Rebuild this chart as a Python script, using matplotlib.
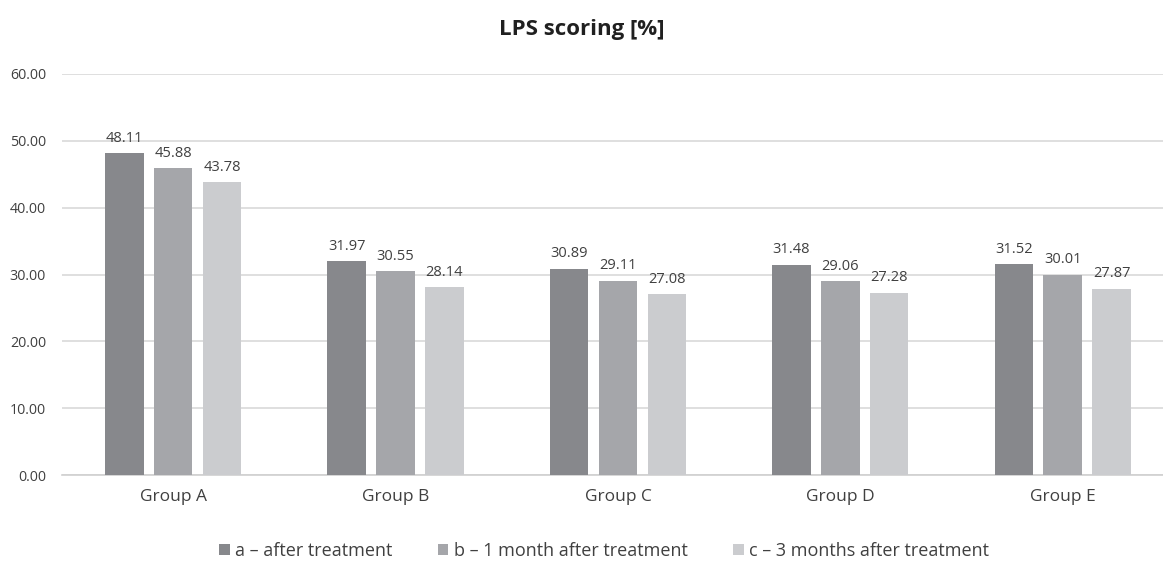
import numpy as np
import matplotlib
matplotlib.use("Agg")
import matplotlib.pyplot as plt

plt.rcParams['font.family'] = ['Open Sans', 'DejaVu Sans']

groups = ['Group A', 'Group B', 'Group C', 'Group D', 'Group E']
series_names = ['a – after treatment', 'b – 1 month after treatment', 'c – 3 months after treatment']
after_treatment = [48.11, 31.97, 30.89, 31.48, 31.52]
one_month = [45.88, 30.55, 29.11, 29.06, 30.01]
three_months = [43.78, 28.14, 27.08, 27.28, 27.87]
colors = ['#87888c', '#a5a6aa', '#cbcccf']

fig = plt.figure(figsize=(11.63, 5.63), dpi=100)
ax = fig.add_axes([62 / 1163, 0.156, 1 - 62 / 1163, 0.7126])

x = np.arange(len(groups))
width = 0.173
step = 0.220
handles = []
for i, (vals, name, col) in enumerate(zip([after_treatment, one_month, three_months], series_names, colors)):
    pos = x + (i - 1) * step
    bars = ax.bar(pos, vals, width, color=col, label=name, zorder=3)
    handles.append(bars)
    for b, v in zip(bars, vals):
        ax.text(b.get_x() + b.get_width() / 2, v + 1.1, f'{v:.2f}', ha='center', va='bottom',
                fontsize=10.5, color='#404040')

# plot area runs off the right edge of the canvas, so the right limit is cut short
ax.set_xlim(-0.5, 4.451)
ax.set_ylim(0, 60)
ax.set_yticks(np.arange(0, 61, 10))
ax.set_yticklabels([f'{t:.2f}' for t in np.arange(0, 61, 10)])
ax.yaxis.grid(True, color='#d9d9d9', linewidth=1.2, zorder=0)
ax.set_xticks(x)
ax.set_xticklabels(groups, fontsize=12.5)
ax.tick_params(axis='x', length=0, pad=10, colors='#404040')
ax.tick_params(axis='y', length=0, pad=11.5, labelsize=10.3, colors='#404040')
for s in ['top', 'right', 'left']:
    ax.spines[s].set_visible(False)
ax.spines['bottom'].set_color('#d0d0d0')
ax.spines['bottom'].set_linewidth(1.2)

fig.text(0.5, 1 - 30 / 563, 'LPS scoring [%]', fontsize=16, fontweight='bold', color='#202020',
         ha='center', va='center')

fig.legend(handles=handles, labels=series_names, loc='center', bbox_to_anchor=(604 / 1163, 1 - 551 / 563),
           ncol=3, frameon=False, fontsize=13, handlelength=0.6, handleheight=0.6,
           handletextpad=0.3, columnspacing=2.5, labelcolor='#404040')

fig.savefig('out.png', dpi=100)
